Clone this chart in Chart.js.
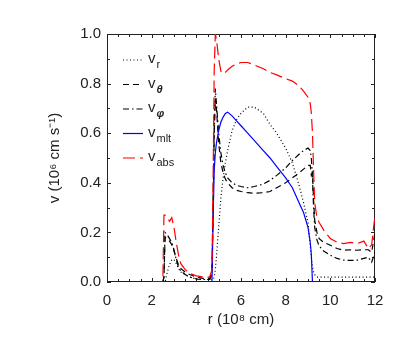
<!DOCTYPE html>
<html>
<head>
<meta charset="utf-8">
<script src="https://cdn.jsdelivr.net/npm/chart.js@4.4.1/dist/chart.umd.min.js"></script>
<style>
  html, body { margin: 0; padding: 0; background: #fff; }
  #wrap { width: 407px; height: 350px; }
</style>
</head>
<body>
<div id="wrap"><canvas id="chart" width="407" height="350"></canvas></div>
<script>
// radius grid (10^8 cm)
var r = [0, 2.0, 2.5, 2.55, 2.6, 2.7, 2.8, 2.9, 3.0, 3.1,
         3.2, 3.3, 3.5, 3.7, 4.0, 4.3, 4.6, 4.7, 4.75, 4.8,
         4.85, 4.9, 5.0, 5.1, 5.2, 5.3, 5.4, 5.6, 5.8, 6.0,
         6.3, 6.6, 7.0, 7.3, 7.6, 8.0, 8.3, 8.6, 8.8, 9.0,
         9.1, 9.15, 9.2, 9.25, 9.3, 9.4, 9.5, 9.7, 10.0, 10.3,
         10.6, 10.9, 11.2, 11.5, 11.7, 11.85, 12.0];

// velocities (10^6 cm/s)
var vR = [null, null, 0, 0, 0, 0.04, 0.07, 0.09, 0.09, 0.075,
          0.055, 0.04, 0.03, 0.02, 0.012, 0.01, 0.01, 0.01, 0.01, 0.02,
          0.05, 0.1, 0.22, 0.34, 0.42, 0.48, 0.53, 0.61, 0.655, 0.68,
          0.705, 0.705, 0.68, 0.635, 0.6, 0.54, 0.48, 0.39, 0.32, 0.24,
          0.15, 0.1, 0.06, 0.04, 0.03, 0.02, 0.02, 0.02, 0.02, 0.02,
          0.02, 0.02, 0.02, 0.02, 0.02, 0.02, 0.02];
var vTheta = [null, null, 0, 0.02, 0.18, 0.175, 0.165, 0.15, 0.125, 0.095,
              0.07, 0.055, 0.04, 0.03, 0.02, 0.015, 0.015, 0.04, 0.3, 0.6,
              0.74, 0.7, 0.56, 0.48, 0.44, 0.415, 0.4, 0.38, 0.37, 0.365,
              0.36, 0.358, 0.36, 0.365, 0.38, 0.4, 0.42, 0.44, 0.455, 0.47,
              0.47, 0.43, 0.44, 0.33, 0.25, 0.2, 0.175, 0.16, 0.148, 0.135,
              0.128, 0.13, 0.128, 0.13, 0.13, 0.12, 0.2];
var vPhi = [null, null, 0, 0.02, 0.2, 0.19, 0.175, 0.16, 0.13, 0.09,
            0.06, 0.045, 0.03, 0.02, 0.012, 0.01, 0.01, 0.03, 0.3, 0.6,
            0.78, 0.72, 0.6, 0.52, 0.47, 0.44, 0.42, 0.4, 0.39, 0.385,
            0.38, 0.385, 0.395, 0.41, 0.43, 0.46, 0.49, 0.515, 0.53, 0.54,
            0.53, 0.5, 0.42, 0.3, 0.22, 0.17, 0.145, 0.125, 0.108, 0.095,
            0.088, 0.087, 0.088, 0.095, 0.1, 0.08, 0.12];
var vMlt = [0, 0, 0, 0, 0, 0, 0, 0, 0, 0,
            0, 0, 0, 0, 0, 0, 0, 0, 0.25, 0.45,
            0.52, 0.56, 0.61, 0.645, 0.665, 0.68, 0.685, 0.67, 0.65, 0.63,
            0.6, 0.57, 0.53, 0.5, 0.465, 0.42, 0.38, 0.32, 0.28, 0.22,
            0.16, 0.11, 0, 0, 0, 0, 0, 0, 0, 0,
            0, 0, 0, 0, 0, 0, 0];
var vAbs = [null, 0, 0, 0.27, 0.27, 0.26, 0.245, 0.26, 0.22, 0.16,
            0.11, 0.075, 0.05, 0.035, 0.025, 0.02, 0.02, 0.05, 0.4, 0.85,
            1.0, 0.98, 0.9, 0.85, 0.84, 0.845, 0.855, 0.87, 0.88, 0.885,
            0.885, 0.875, 0.86, 0.845, 0.835, 0.82, 0.81, 0.79, 0.77, 0.745,
            0.72, 0.68, 0.6, 0.45, 0.32, 0.26, 0.24, 0.21, 0.175, 0.16,
            0.155, 0.16, 0.155, 0.165, 0.135, 0.15, 0.27];

var xTicks = [0, 2, 4, 6, 8, 10, 12];
var yTicks = [0.0, 0.2, 0.4, 0.6, 0.8, 1.0];

var FONT = "'Liberation Sans', Arial, sans-serif";

function pts(v) {
    return r.map(function(x, i) { return {x: x, y: v[i]}; });
}

// legend entries: main text + subscript (and whether subscript is bold italic greek)
var series = [
    {sub: "r",   greek: false, data: vR,     color: "#000", dash: [1, 2.5], order: 4},
    {sub: "θ",   greek: true,  data: vTheta, color: "#000", dash: [6, 4],   order: 3},
    {sub: "φ",   greek: true,  data: vPhi,   color: "#000", dash: [6, 3, 1.5, 3], order: 2},
    {sub: "mlt", greek: false, data: vMlt,   color: "#0000ff", dash: [],    order: 1},
    {sub: "abs", greek: false, data: vAbs,   color: "#ff0000", dash: [12, 5], order: 0}
];

var datasets = series.map(function(s) {
    return {
        label: "v" + s.sub,
        data: pts(s.data),
        borderColor: s.color,
        borderWidth: 1.2,
        borderDash: s.dash,
        pointRadius: 0,
        fill: false,
        tension: 0,
        spanGaps: false,
        order: s.order
    };
});

// box with inward ticks on all four sides (IDL style)
var boxPlugin = {
    id: "box",
    beforeDatasetsDraw: function(chart) {
        var ctx = chart.ctx, a = chart.chartArea;
        var xs = chart.scales.x, ys = chart.scales.y;
        ctx.save();
        ctx.strokeStyle = "#222";
        ctx.lineWidth = 1;
        ctx.strokeRect(a.left + 0.5, a.top + 0.5, a.right - a.left - 1, a.bottom - a.top - 1);
        ctx.beginPath();
        for (var i = 0; i <= 24; i++) {
            var px = Math.round(xs.getPixelForValue(i * 0.5)) + 0.5;
            var len = (i % 4 === 0) ? 4 : 3;
            ctx.moveTo(px, a.bottom); ctx.lineTo(px, a.bottom - len);
            ctx.moveTo(px, a.top); ctx.lineTo(px, a.top + len);
        }
        for (var j = 0; j <= 10; j++) {
            var py = Math.round(ys.getPixelForValue(j * 0.1)) + 0.5;
            var l2 = (j % 2 === 0) ? 4 : 3;
            ctx.moveTo(a.left, py); ctx.lineTo(a.left + l2, py);
            ctx.moveTo(a.right, py); ctx.lineTo(a.right - l2, py);
        }
        ctx.stroke();
        ctx.restore();
    },
    afterDatasetsDraw: function(chart) {
        var ctx = chart.ctx, a = chart.chartArea;
        ctx.save();
        series.forEach(function(s, i) {
            var y = a.top + 26 + i * 24.5;
            ctx.beginPath();
            ctx.strokeStyle = s.color;
            ctx.lineWidth = 1.2;
            ctx.setLineDash(s.dash);
            ctx.moveTo(a.left + 16, y);
            ctx.lineTo(a.left + 36, y);
            ctx.stroke();
            ctx.setLineDash([]);
            ctx.fillStyle = "#222";
            ctx.textBaseline = "alphabetic";
            ctx.textAlign = "left";
            ctx.font = "15px " + FONT;
            var tx = a.left + 41;
            ctx.fillText("v", tx, y + 3);
            var w = ctx.measureText("v").width;
            ctx.font = (s.greek ? "italic bold 11px " : "11px ") + FONT;
            ctx.fillText(s.sub, tx + w + 1, y + 8);
        });
        ctx.restore();
    }
};

var chart = new Chart(document.getElementById("chart").getContext("2d"), {
    type: "line",
    data: {datasets: datasets},
    options: {
        responsive: false,
        animation: false,
        events: [],
        layout: {padding: {left: 0, top: 34, right: 32, bottom: 0}},
        plugins: {legend: {display: false}, tooltip: {enabled: false}},
        scales: {
            x: {
                type: "linear",
                min: 0, max: 12,
                afterFit: function(s) { s.height = 68; },
                afterBuildTicks: function(s) { s.ticks = xTicks.map(function(v) { return {value: v}; }); },
                grid: {display: false, drawTicks: false},
                border: {display: false},
                ticks: {color: "#222", padding: 10, maxRotation: 0, autoSkip: false,
                        font: {family: FONT, size: 15}},
                title: {display: true, text: "r (10⁸ cm)", color: "#222",
                        font: {family: FONT, size: 15}, padding: {top: 0, bottom: 21}}
            },
            y: {
                type: "linear",
                min: 0, max: 1.0,
                afterFit: function(s) { s.width = 107; },
                afterBuildTicks: function(s) { s.ticks = yTicks.map(function(v) { return {value: v}; }); },
                grid: {display: false, drawTicks: false},
                border: {display: false},
                ticks: {color: "#222", padding: 6, autoSkip: false,
                        font: {family: FONT, size: 15},
                        callback: function(v) { return v.toFixed(1); }},
                title: {display: true, text: "v (10⁶ cm s⁻¹)", color: "#222",
                        font: {family: FONT, size: 15}, padding: {top: 46, bottom: 0}}
            }
        }
    },
    plugins: [boxPlugin]
});
</script>
</body>
</html>
